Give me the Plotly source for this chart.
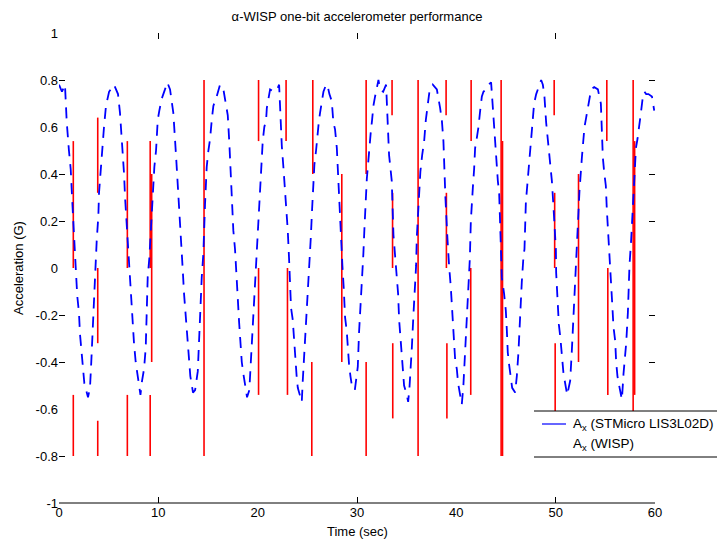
import plotly.graph_objects as go

# ---------------- data ----------------
title_text = "α-WISP one-bit accelerometer performance"
x_title = "Time (sec)"
y_title = "Acceleration (G)"
legend_names = ["A<sub>x</sub> (STMicro LIS3L02D)", "A<sub>x</sub> (WISP)"]

x_tickvals = [0, 10, 20, 30, 40, 50, 60]
x_ticktext = ["0", "10", "20", "30", "40", "50", "60"]
x_tickmarks = [10, 30, 50]
y_tickvals = [1, 0.8, 0.6, 0.4, 0.2, 0, -0.2, -0.4, -0.6, -0.8, -1]
y_ticktext = ["1", "0.8", "0.6", "0.4", "0.2", "0", "-0.2", "-0.4", "-0.6", "-0.8", "-1"]
y_tickmarks = [0.8, 0.4, 0.2, -0.2, -0.4, -0.8]

# STMicro accelerometer trace (time in s, acceleration in G)
stm_t = [0.00, 0.30, 0.60, 0.78, 1.00, 1.18, 1.34, 1.54, 1.71, 1.84, 2.01, 2.11, 2.29, 2.39, 2.55, 2.92,
         3.12, 3.25, 3.39, 3.52, 3.66, 3.80, 3.96, 4.03, 4.20, 4.33, 4.53, 4.73, 5.04, 5.54, 5.94, 6.14,
         6.24, 6.41, 6.55, 6.65, 6.78, 6.98, 7.15, 7.25, 7.38, 7.55, 7.72, 7.89, 8.10, 8.20, 8.36, 8.56,
         8.73, 8.83, 8.93, 9.09, 9.44, 9.60, 9.77, 9.84, 9.94, 10.10, 10.34, 10.67, 10.90, 11.18, 11.51,
         11.78, 11.95, 12.11, 12.19, 12.36, 12.46, 12.59, 12.72, 12.82, 12.92, 13.09, 13.22, 13.49, 13.70,
         13.97, 14.13, 14.27, 14.37, 14.53, 14.70, 14.87, 15.04, 15.21, 15.38, 15.54, 15.88, 16.21, 16.55,
         16.99, 17.15, 17.25, 17.39, 17.49, 17.55, 17.72, 17.82, 18.00, 18.13, 18.23, 18.40, 18.56, 18.73,
         18.93, 19.16, 19.31, 19.41, 19.51, 19.64, 19.77, 19.91, 20.01, 20.17, 20.31, 20.41, 20.51, 20.67,
         20.85, 20.92, 21.08, 21.25, 21.60, 21.95, 22.16, 22.26, 22.43, 22.59, 22.76, 22.86, 23.03, 23.16,
         23.26, 23.36, 23.53, 23.67, 23.77, 23.94, 24.04, 24.27, 24.44, 24.54, 24.67, 24.84, 24.94, 25.11,
         25.21, 25.35, 25.48, 25.61, 25.71, 25.88, 26.01, 26.15, 26.28, 26.46, 26.62, 26.89, 27.02, 27.22,
         27.46, 27.62, 27.79, 27.97, 28.07, 28.20, 28.30, 28.53, 28.67, 28.80, 28.97, 29.07, 29.20, 29.34,
         29.48, 29.78, 30.08, 30.21, 30.38, 30.51, 30.64, 30.75, 30.89, 30.99, 31.15, 31.25, 31.39, 31.52,
         31.65, 31.82, 31.99, 32.16, 32.33, 32.63, 32.93, 33.10, 33.23, 33.33, 33.50, 33.67, 33.84, 34.01,
         34.14, 34.24, 34.41, 34.54, 34.64, 34.74, 35.01, 35.15, 35.28, 35.42, 35.52, 35.68, 35.82, 35.95,
         36.02, 36.28, 36.38, 36.56, 36.76, 36.93, 37.09, 37.29, 37.63, 38.04, 38.37, 38.54, 38.70, 38.77,
         38.90, 39.10, 39.20, 39.27, 39.44, 39.54, 39.64, 39.77, 39.88, 40.05, 40.18, 40.38, 40.55, 40.71,
         40.85, 40.98, 41.09, 41.19, 41.36, 41.46, 41.59, 41.66, 41.79, 41.89, 42.05, 42.23, 42.40, 42.57,
         42.73, 42.97, 43.23, 43.50, 43.68, 43.84, 44.01, 44.18, 44.31, 44.41, 44.58, 44.81, 44.98, 45.08,
         45.18, 45.31, 45.49, 45.62, 45.92, 46.09, 46.25, 46.35, 46.49, 46.59, 46.76, 46.86, 47.00, 47.16,
         47.30, 47.43, 47.53, 47.66, 47.83, 48.04, 48.27, 48.54, 48.71, 48.87, 49.04, 49.21, 49.45, 49.62,
         49.78, 50.02, 50.05, 50.18, 50.32, 50.48, 50.62, 50.79, 51.16, 51.46, 51.63, 51.79, 51.96, 52.13,
         52.16, 52.40, 52.64, 52.80, 52.90, 53.07, 53.30, 53.57, 53.88, 54.25, 54.55, 54.75, 54.88, 55.05,
         55.15, 55.32, 55.49, 55.56, 55.69, 55.82, 55.99, 56.09, 56.22, 56.39, 56.67, 56.83, 56.93, 57.10,
         57.27, 57.43, 57.60, 57.91, 58.08, 58.24, 58.41, 58.58, 58.78, 58.94, 59.11, 59.34, 59.69, 59.92]
stm_a = [0.78, 0.75, 0.78, 0.62, 0.50, 0.42, 0.28, 0.09, -0.02, -0.12, -0.19, -0.28, -0.37, -0.44, -0.49, -0.55,
         -0.51, -0.40, -0.24, -0.10, -0.01, 0.12, 0.22, 0.32, 0.42, 0.51, 0.60, 0.69, 0.75, 0.78, 0.74, 0.66,
         0.60, 0.51, 0.40, 0.30, 0.21, 0.05, -0.06, -0.15, -0.22, -0.32, -0.40, -0.45, -0.52, -0.54, -0.48, -0.43,
         -0.34, -0.18, -0.04, 0.04, 0.33, 0.43, 0.50, 0.56, 0.63, 0.67, 0.72, 0.76, 0.79, 0.76, 0.66,
         0.48, 0.36, 0.28, 0.21, 0.11, -0.01, -0.11, -0.18, -0.25, -0.32, -0.40, -0.46, -0.53, -0.52,
         -0.44, -0.31, -0.14, -0.04, 0.06, 0.27, 0.43, 0.50, 0.55, 0.63, 0.69, 0.73, 0.78, 0.76,
         0.65, 0.53, 0.43, 0.33, 0.26, 0.16, 0.08, -0.02, -0.13, -0.23, -0.31, -0.40, -0.45, -0.50,
         -0.55, -0.52, -0.40, -0.32, -0.23, -0.14, -0.03, 0.09, 0.20, 0.28, 0.41, 0.48, 0.54, 0.60,
         0.63, 0.68, 0.73, 0.76, 0.75, 0.76, 0.78, 0.68, 0.52, 0.43, 0.34, 0.26, 0.16, 0.04,
         -0.08, -0.17, -0.22, -0.31, -0.39, -0.47, -0.51, -0.54, -0.57, -0.48, -0.38, -0.30, -0.21, -0.08,
         0.03, 0.13, 0.25, 0.34, 0.44, 0.50, 0.57, 0.62, 0.66, 0.70, 0.75, 0.78, 0.78, 0.74,
         0.71, 0.62, 0.59, 0.51, 0.41, 0.27, 0.19, 0.01, -0.09, -0.21, -0.27, -0.34, -0.41, -0.46,
         -0.50, -0.52, -0.42, -0.27, -0.15, -0.03, 0.06, 0.17, 0.30, 0.38, 0.46, 0.52, 0.58, 0.63,
         0.69, 0.73, 0.76, 0.80, 0.76, 0.75, 0.78, 0.56, 0.48, 0.44, 0.37, 0.14, 0.05, -0.02,
         -0.11, -0.22, -0.31, -0.36, -0.44, -0.50, -0.54, -0.57, -0.51, -0.43, -0.34, -0.20, -0.11, 0.01,
         0.13, 0.35, 0.41, 0.48, 0.54, 0.63, 0.68, 0.75, 0.78, 0.76, 0.68, 0.63, 0.54, 0.42,
         0.30, 0.13, 0.04, 0.01, -0.08, -0.16, -0.25, -0.34, -0.39, -0.43, -0.49, -0.54, -0.58, -0.50,
         -0.38, -0.28, -0.19, -0.09, 0.04, 0.20, 0.27, 0.34, 0.42, 0.51, 0.55, 0.60, 0.67, 0.73,
         0.75, 0.76, 0.78, 0.79, 0.68, 0.57, 0.46, 0.37, 0.32, 0.18, -0.04, -0.11, -0.18, -0.26,
         -0.36, -0.41, -0.47, -0.51, -0.53, -0.46, -0.36, -0.26, -0.17, -0.06, 0.05, 0.08, 0.28, 0.36,
         0.45, 0.52, 0.58, 0.64, 0.70, 0.74, 0.77, 0.80, 0.78, 0.73, 0.62, 0.55, 0.47, 0.37,
         0.26, 0.08, -0.02, -0.12, -0.24, -0.30, -0.37, -0.45, -0.54, -0.48, -0.35, -0.21, -0.10, 0.05,
         0.10, 0.33, 0.47, 0.55, 0.60, 0.64, 0.70, 0.76, 0.77, 0.76, 0.70, 0.47, 0.41, 0.35,
         0.25, 0.13, 0.04, -0.06, -0.15, -0.25, -0.31, -0.40, -0.46, -0.50, -0.56, -0.45, -0.41, -0.32,
         -0.19, 0.01, 0.12, 0.38, 0.51, 0.55, 0.62, 0.66, 0.73, 0.75, 0.74, 0.74, 0.73, 0.67]

# WISP one-bit accelerometer: vertical segments (time, top, bottom)
wisp_t = [1.44, 1.44, 3.90, 3.90, 3.90, 6.88, 6.88, 9.18, 9.33, 9.18, 14.60,
          20.09, 20.09, 22.86, 23.00, 25.55, 25.45, 28.47, 30.92, 30.92,
          33.53, 33.58, 33.60, 36.15, 38.97, 39.00, 39.05, 41.49, 41.45,
          44.51, 44.65, 49.85, 49.90, 49.95, 52.30, 55.15, 55.25, 57.80, 57.95]
wisp_top = [0.54, -0.54, 0.64, 0.0, -0.65, 0.54, -0.54, 0.54, 0.40, -0.54, 0.80,
            0.80, 0.0, 0.80, 0.0, 0.80, -0.40, 0.40, 0.80, -0.40,
            0.80, 0.32, -0.32, 0.80, 0.80, 0.32, -0.32, 0.80, 0.0,
            0.80, 0.54, 0.80, 0.32, -0.32, 0.40, 0.80, 0.0, 0.80, 0.54]
wisp_bot = [0.0, -0.80, 0.32, -0.32, -0.80, 0.0, -0.80, 0.0, -0.40, -0.80, -0.80,
            0.54, -0.54, 0.54, -0.54, 0.40, -0.80, -0.40, 0.40, -0.80,
            0.65, 0.0, -0.64, -0.80, 0.65, 0.0, -0.64, 0.54, -0.54,
            -0.80, -0.80, 0.65, 0.0, -0.64, -0.40, 0.54, -0.54, -0.80, -0.54]

# ---------------- figure ----------------
FONT = "Arial, 'Liberation Sans', Helvetica, sans-serif"
OFF = 8                      # page body margin
W, H = 725 - OFF, 543 - OFF
ML, MT = 59 - OFF, 33 - OFF
MR = W - (655 - OFF)
MB = H - (503 - OFF)
PW, PH = W - ML - MR, H - MT - MB


def px_x(p):  # window pixel -> paper x
    return (p - OFF - ML) / PW


def px_y(p):  # window pixel -> paper y
    return (H - MB - (p - OFF)) / PH


wx, wy = [], []
for t, a, b in zip(wisp_t, wisp_top, wisp_bot):
    wx += [t, t, None]
    wy += [a, b, None]

fig = go.Figure()
fig.add_trace(go.Scatter(x=wx, y=wy, mode="lines", name=legend_names[1],
                         line=dict(color="#ff0000", width=1.6), showlegend=False,
                         connectgaps=False))
fig.add_trace(go.Scatter(x=stm_t, y=stm_a, mode="lines", name=legend_names[0],
                         line=dict(color="#0000ff", width=1.8, dash="11px,8px"), showlegend=False))
# empty carriers so the mirror tick axes are drawn
fig.add_trace(go.Scatter(x=[], y=[], xaxis="x2", yaxis="y2", showlegend=False, hoverinfo="skip"))

fig.update_layout(
    width=W, height=H,
    margin=dict(l=ML, r=MR, t=MT, b=MB, autoexpand=False),
    paper_bgcolor="white", plot_bgcolor="white",
    font=dict(family=FONT, size=13, color="black"),
    title=dict(text=title_text, x=0.5, xref="paper", xanchor="center",
               y=1 - 8 / H, yref="container", yanchor="middle",
               font=dict(size=13, color="black")),
    xaxis=dict(range=[0, 60], tickvals=x_tickvals, ticktext=x_ticktext,
               ticks="", showgrid=False, zeroline=False, automargin=False,
               showline=False,
               minor=dict(tickvals=x_tickmarks, ticks="inside", ticklen=6,
                          tickcolor="black", tickwidth=1, showgrid=False)),
    yaxis=dict(range=[-1, 1], tickvals=y_tickvals, ticktext=y_ticktext,
               ticks="", showgrid=False, zeroline=False, automargin=False,
               showline=False,
               minor=dict(tickvals=y_tickmarks, ticks="inside", ticklen=6,
                          tickcolor="black", tickwidth=1, showgrid=False)),
    xaxis2=dict(range=[0, 60], overlaying="x", side="top", anchor="y2",
                tickvals=x_tickmarks, ticks="inside", ticklen=6, tickcolor="black",
                showticklabels=False, showgrid=False, zeroline=False, showline=False,
                automargin=False),
    yaxis2=dict(range=[-1, 1], overlaying="y", side="right", anchor="x2",
                tickvals=y_tickmarks, ticks="inside", ticklen=6, tickcolor="black",
                showticklabels=False, showgrid=False, zeroline=False, showline=False,
                automargin=False),
)

# axis titles placed as in the reference
fig.add_annotation(text=x_title, xref="paper", yref="paper", x=px_x(357), y=px_y(531),
                   xanchor="center", yanchor="middle", showarrow=False,
                   font=dict(size=13, color="black"))
fig.add_annotation(text=y_title, xref="paper", yref="paper", x=px_x(18), y=px_y(268),
                   xanchor="center", yanchor="middle", textangle=-90, showarrow=False,
                   font=dict(size=13, color="black"))

# bottom axis rule
fig.add_shape(type="line", xref="paper", yref="paper", x0=0, x1=1, y0=0, y1=0,
              line=dict(color="black", width=1), layer="above")

# manual legend (white box with top/bottom rules)
lx0, lx1 = px_x(534), px_x(725)
ly_top, ly_bot = px_y(411), px_y(457)
fig.add_shape(type="rect", xref="paper", yref="paper", x0=lx0, x1=lx1, y0=ly_bot, y1=ly_top,
              fillcolor="white", line=dict(width=0), layer="above")
for yy in (ly_top, ly_bot):
    fig.add_shape(type="line", xref="paper", yref="paper", x0=lx0, x1=lx1, y0=yy, y1=yy,
                  line=dict(color="black", width=1), layer="above")
row1, row2 = px_y(424), px_y(444)
fig.add_shape(type="line", xref="paper", yref="paper",
              x0=px_x(542), x1=px_x(566), y0=row1, y1=row1,
              line=dict(color="#0000ff", width=1.2), layer="above")
for txt, yy in zip(legend_names, (row1, row2)):
    fig.add_annotation(text=txt, xref="paper", yref="paper", x=px_x(571), y=yy,
                       xanchor="left", yanchor="middle", showarrow=False,
                       font=dict(size=13.5, color="black"))

fig.write_html("out.html")
